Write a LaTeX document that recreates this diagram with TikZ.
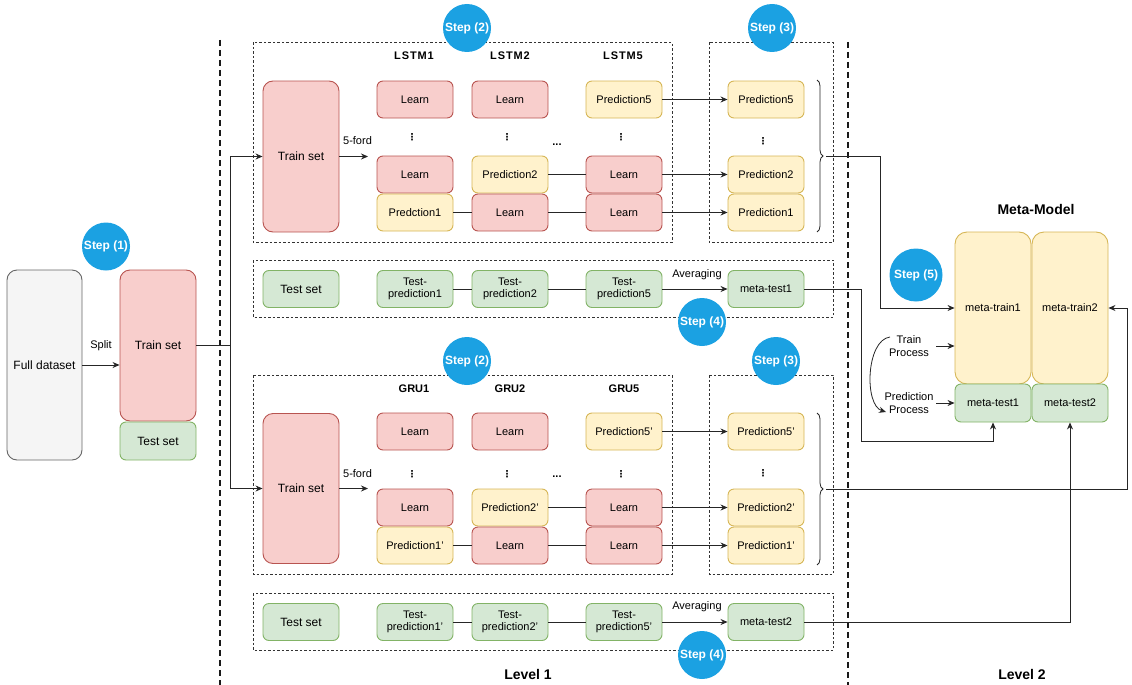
\documentclass[tikz,border=0pt]{standalone}
\usepackage{fontspec}
\setmainfont{Liberation Sans}
\newfontfamily\dejavu{DejaVu Sans}
\usetikzlibrary{arrows.meta,decorations.pathreplacing,calc}
\definecolor{redF}{HTML}{F8CECC}
\definecolor{redD}{HTML}{B85450}
\definecolor{yelF}{HTML}{FFF2CC}
\definecolor{yelD}{HTML}{D6B656}
\definecolor{grnF}{HTML}{D5E8D4}
\definecolor{grnD}{HTML}{82B366}
\definecolor{gryF}{HTML}{F5F5F5}
\definecolor{gryD}{HTML}{666666}
\definecolor{stepB}{HTML}{1BA1E2}
\newcommand{\vdts}{{\dejavu\bfseries\fontsize{9.5}{9.5}\selectfont ⋮}}
\begin{document}
\begin{tikzpicture}[x=1pt,y=-1pt,
  box/.style={rounded corners=6pt, line width=0.9pt, minimum width=76pt, minimum height=37pt,
    inner sep=1pt, align=center, font=\fontsize{11}{12.5}\selectfont},
  bigbox/.style={box, rounded corners=10pt, font=\fontsize{12}{14}\selectfont},
  redbox/.style={box, fill=redF, draw=redD},
  yelbox/.style={box, fill=yelF, draw=yelD},
  grnbox/.style={box, fill=grnF, draw=grnD},
  conn/.style={line width=0.8pt, draw=black!85},
  arr/.style={conn, -{Stealth[length=7pt,width=6pt]}},
  dashbox/.style={draw=black!80, line width=0.7pt, dash pattern=on 2.5pt off 2pt},
  levelline/.style={draw=black!90, line width=2.2pt, dash pattern=on 6pt off 4pt},
  stepc/.style={circle, fill=stepB, minimum size=48pt, inner sep=0pt, text=white,
    font=\bfseries\fontsize{12}{14}\selectfont},
  lbl/.style={inner sep=0pt, font=\fontsize{11}{12.5}\selectfont, align=center},
  hdr/.style={inner sep=0pt, font=\bfseries\fontsize{11}{12.5}\selectfont},
  big/.style={inner sep=0pt, font=\bfseries\fontsize{14}{16}\selectfont},
  brc/.style={conn, decorate, decoration={brace, amplitude=6pt}}
]
\useasboundingbox (0,0) rectangle (1132,685);

% level separators
\draw[levelline] (220,40) -- (220,685);
\draw[levelline] (848,42) -- (848,685);

% dashed group boxes
\draw[dashbox] (253,42.5) rectangle (672,242);
\draw[dashbox] (709,42.5) rectangle (833,242);
\draw[dashbox] (253,260) rectangle (833,317);
\draw[dashbox] (253,375) rectangle (672,574);
\draw[dashbox] (709,375) rectangle (833,574);
\draw[dashbox] (253,593) rectangle (833,650);

% Level 0 (left)
\node[bigbox, fill=gryF, draw=gryD, minimum width=75pt, minimum height=190pt] (fd) at (44.5,365) {Full dataset};
\node[bigbox, fill=redF, draw=redD, minimum width=76pt, minimum height=151pt] (ts0) at (158,345.5) {Train set};
\node[box, fill=grnF, draw=grnD, font=\fontsize{12}{14}\selectfont, minimum height=38pt] (te0) at (158,441) {Test set};
\draw[arr] (fd.east |- 0,365) -- (ts0.west |- 0,365);
\node[lbl] (split) at (101,346) {Split};
\coordinate (j) at (230,345.5);
\draw[conn] (ts0) -- (j);

% ---------- LSTM block ----------
\node[bigbox, fill=redF, draw=redD, minimum height=151pt] (tsA) at (301,156.5) {Train set};
\draw[arr] (j) |- (tsA);
\coordinate (fA) at (368,156.5);
\draw[arr] (tsA) -- (fA);
\node[lbl] (fordA) at (357.5,141) {5-ford};

\node[hdr] (hA1) at (414,56) {\addfontfeature{LetterSpace=8}LSTM1};
\node[hdr] (hA2) at (510,56) {\addfontfeature{LetterSpace=8}LSTM2};
\node[hdr] (hA3) at (623,56) {\addfontfeature{LetterSpace=8}LSTM5};

\node[redbox] (a11) at (415,99.5) {Learn};
\node[redbox] (a12) at (510,99.5) {Learn};
\node[yelbox] (a13) at (624,99.5) {Prediction5};
\node[redbox] (a21) at (415,174.5) {Learn};
\node[yelbox] (a22) at (510,174.5) {Prediction2};
\node[redbox] (a23) at (624,174.5) {Learn};
\node[yelbox] (a31) at (415,212.5) {Predction1};
\node[redbox] (a32) at (510,212.5) {Learn};
\node[redbox] (a33) at (624,212.5) {Learn};
\node[inner sep=0pt] (dA1) at (412,137) {\vdts};
\node[inner sep=0pt] (dA2) at (507,137) {\vdts};
\node[inner sep=0pt] (dA3) at (621,137) {\vdts};
\node[lbl, font=\bfseries\fontsize{11}{12.5}\selectfont] (eA) at (557,145) {...};

\node[yelbox] (pA5) at (766,99.5) {Prediction5};
\node[yelbox] (pA2) at (766,174.5) {Prediction2};
\node[yelbox] (pA1) at (766,212.5) {Prediction1};
\node[inner sep=0pt] (dA4) at (763,141) {\vdts};

\draw[conn] (a31) -- (a32);
\draw[conn] (a32) -- (a33);
\draw[arr] (a33) -- (pA1);
\draw[conn] (a22) -- (a23);
\draw[arr] (a23) -- (pA2);
\draw[arr] (a13) -- (pA5);

\draw[brc] (817,80) -- (817,232);
\coordinate (bA) at (826,156);

% test row 1
\node[grnbox, font=\fontsize{12}{14}\selectfont] (tA0) at (301,289) {Test set};
\node[grnbox] (tA1) at (415,289) {Test-\\prediction1};
\node[grnbox] (tA2) at (510,289) {Test-\\prediction2};
\node[grnbox] (tA3) at (624,289) {Test-\\prediction5};
\node[grnbox] (mA) at (766,289) {meta-test1};
\draw[conn] (tA1) -- (tA2);
\draw[conn] (tA2) -- (tA3);
\draw[arr] (tA3) -- (mA);
\node[lbl] (avA) at (697,274.5) {Averaging};

% ---------- GRU block ----------
\node[bigbox, fill=redF, draw=redD, minimum height=150pt] (tsB) at (301,488.5) {Train set};
\draw[arr] (j) |- (tsB);
\coordinate (fB) at (368,488.5);
\draw[arr] (tsB) -- (fB);
\node[lbl] (fordB) at (357.5,474) {5-ford};

\node[hdr] (hB1) at (414,389) {GRU1};
\node[hdr] (hB2) at (510,389) {GRU2};
\node[hdr] (hB3) at (624,389) {GRU5};

\node[redbox] (b11) at (415,431.5) {Learn};
\node[redbox] (b12) at (510,431.5) {Learn};
\node[yelbox] (b13) at (624,431.5) {Prediction5'};
\node[redbox] (b21) at (415,507.5) {Learn};
\node[yelbox] (b22) at (510,507.5) {Prediction2'};
\node[redbox] (b23) at (624,507.5) {Learn};
\node[yelbox] (b31) at (415,545.5) {Prediction1'};
\node[redbox] (b32) at (510,545.5) {Learn};
\node[redbox] (b33) at (624,545.5) {Learn};
\node[inner sep=0pt] (dB1) at (412,474) {\vdts};
\node[inner sep=0pt] (dB2) at (507,474) {\vdts};
\node[inner sep=0pt] (dB3) at (621,474) {\vdts};
\node[lbl, font=\bfseries\fontsize{11}{12.5}\selectfont] (eB) at (557,477) {...};

\node[yelbox] (pB5) at (766,431.5) {Prediction5'};
\node[yelbox] (pB2) at (766,507.5) {Prediction2'};
\node[yelbox] (pB1) at (766,545.5) {Prediction1'};
\node[inner sep=0pt] (dB4) at (763,473) {\vdts};

\draw[conn] (b31) -- (b32);
\draw[conn] (b32) -- (b33);
\draw[arr] (b33) -- (pB1);
\draw[conn] (b22) -- (b23);
\draw[arr] (b23) -- (pB2);
\draw[arr] (b13) -- (pB5);

\draw[brc] (817,413) -- (817,565);
\coordinate (bB) at (826,489);

% test row 2
\node[grnbox, font=\fontsize{12}{14}\selectfont] (tB0) at (301,622) {Test set};
\node[grnbox] (tB1) at (415,622) {Test-\\prediction1'};
\node[grnbox] (tB2) at (510,622) {Test-\\prediction2'};
\node[grnbox] (tB3) at (624,622) {Test-\\prediction5'};
\node[grnbox] (mB) at (766,622) {meta-test2};
\draw[conn] (tB1) -- (tB2);
\draw[conn] (tB2) -- (tB3);
\draw[arr] (tB3) -- (mB);
\node[lbl] (avB) at (697,607) {Averaging};

% ---------- Meta-model ----------
\node[big] (mm) at (1036,209) {Meta-Model};
\node[box, fill=yelF, draw=yelD, rounded corners=12pt, minimum height=152pt] (mt1) at (993,308) {meta-train1};
\node[box, fill=yelF, draw=yelD, rounded corners=12pt, minimum height=152pt] (mt2) at (1070,308) {meta-train2};
\node[grnbox, minimum height=38pt] (te1) at (993,403) {meta-test1};
\node[grnbox, minimum height=38pt] (te2) at (1070,403) {meta-test2};

\node[lbl] (tp) at (909,346) {Train\\Process};
\node[lbl] (pp) at (909,403) {Prediction\\Process};
\coordinate (tpa) at (936,346);
\coordinate (ppa) at (936,403);
\draw[arr] (tpa) -- (tpa -| mt1.west);
\draw[arr] (ppa) -- (te1);
\coordinate (cS) at (890,337);
\coordinate (cE) at (886,412);
\draw[arr] (cS) .. controls (866,340) and (864,405) .. (cE);

% connectors into meta-model
\coordinate (k1) at (861,441);
\draw[arr] (bA) -- ++(54,0) |- (mt1);
\draw[arr] (bB) -- ++(301,0) |- (mt2);
\draw[arr] (mA.east) -| (k1) -| (te1);
\draw[arr] (mB) -| (te2);

% level labels
\node[big] (l1) at (528,674) {Level 1};
\node[big] (l2) at (1022,674) {Level 2};

% step circles
\node[stepc] (s1) at (106,246.5) {Step (1)};
\node[stepc] (s2a) at (467,28) {Step (2)};
\node[stepc] (s3a) at (772,28) {Step (3)};
\node[stepc] (s4a) at (702,322) {Step (4)};
\node[stepc] (s2b) at (467,361) {Step (2)};
\node[stepc] (s3b) at (776,361) {Step (3)};
\node[stepc] (s4b) at (702,655) {Step (4)};
\node[stepc, minimum size=53pt] (s5) at (916,275) {Step (5)};
\end{tikzpicture}
\end{document}
